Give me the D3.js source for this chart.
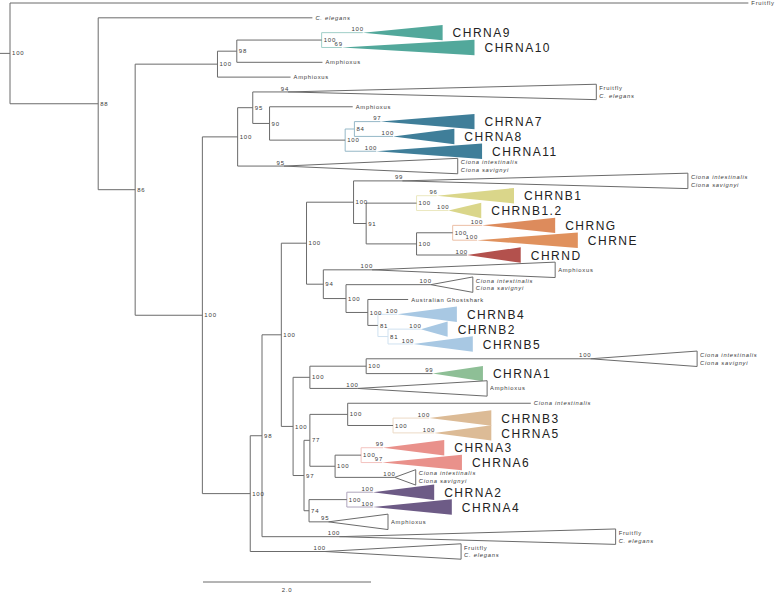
<!DOCTYPE html>
<html><head><meta charset="utf-8">
<script src="https://cdn.jsdelivr.net/npm/d3@7"></script>
<style>body{margin:0;background:#fff}svg{display:block}text{opacity:0.999}</style>
</head><body><svg id="c" width="778" height="594"></svg>
<script>
// tree topology: [node, parent, branch length (substitutions/site)]
const treeEdges = [
  ["root", null, 0],
  ["t_ff", "root", 8.79],
  ["n88", "root", 1.05],
  ["t_ce", "n88", 2.55],
  ["n86", "n88", 0.44],
  ["n100a", "n86", 0.98],
  ["n98a", "n100a", 0.23],
  ["nA9", "n98a", 1.01],
  ["c_A9", "nA9", 0.49],
  ["c_A10", "nA9", 0.24],
  ["t_am1", "n98a", 1.02],
  ["t_am2", "n100a", 0.87],
  ["n100b", "n86", 0.80],
  ["n100c", "n100b", 0.42],
  ["n95", "n100c", 0.18],
  ["c_ffce1", "n95", 0.42],
  ["n90", "n95", 0.20],
  ["t_am3", "n90", 0.99],
  ["nA7", "n90", 0.90],
  ["n84", "nA7", 0.11],
  ["c_A7", "n84", 0.31],
  ["c_A8", "n84", 0.46],
  ["c_A11", "nA7", 0.37],
  ["c_ci1", "n100c", 0.55],
  ["n100d", "n100b", 0.57],
  ["n98b", "n100d", 0.14],
  ["n100e", "n98b", 0.23],
  ["n100f", "n100e", 0.30],
  ["n100g", "n100f", 0.56],
  ["c_ci2", "n100g", 0.58],
  ["n91", "n100g", 0.15],
  ["nB1", "n91", 0.60],
  ["c_B1", "nB1", 0.24],
  ["c_B12", "nB1", 0.38],
  ["nGED", "n91", 0.60],
  ["nGE", "nGED", 0.43],
  ["c_G", "nGE", 0.35],
  ["c_E", "nGE", 0.29],
  ["c_D", "nGED", 0.60],
  ["n94", "n100f", 0.20],
  ["c_am4", "n94", 0.58],
  ["n100h", "n94", 0.27],
  ["c_ci3", "n100h", 1.01],
  ["n100i", "n100h", 0.26],
  ["t_gs", "n100i", 0.48],
  ["n81a", "n100i", 0.12],
  ["c_B4", "n81a", 0.23],
  ["n81b", "n81a", 0.12],
  ["c_B2", "n81b", 0.39],
  ["c_B5", "n81b", 0.30],
  ["n100j", "n100e", 0.14],
  ["n100k", "n100j", 0.20],
  ["n100l", "n100k", 0.67],
  ["c_ci4", "n100l", 2.67],
  ["c_A1", "n100l", 0.79],
  ["c_am5", "n100k", 0.57],
  ["n97", "n100j", 0.13],
  ["n77", "n97", 0.07],
  ["n100m", "n77", 0.45],
  ["t_ci", "n100m", 2.18],
  ["nB3", "n100m", 0.54],
  ["c_B3", "nB3", 0.43],
  ["c_A5", "nB3", 0.49],
  ["n100n", "n77", 0.30],
  ["nA3", "n100n", 0.31],
  ["c_A3", "nA3", 0.26],
  ["c_A6", "nA3", 0.25],
  ["c_ci5", "n100n", 0.71],
  ["n74", "n97", 0.06],
  ["nA2", "n74", 0.45],
  ["c_A2", "nA2", 0.31],
  ["c_A4", "nA2", 0.31],
  ["c_am6", "n74", 0.23],
  ["c_ffce2", "n98b", 0.92],
  ["c_ffce3", "n100d", 0.89]
];

// bootstrap support values
const supportValues = {
  root:"100", n88:"88", n86:"86", n100a:"100", n98a:"98", nA9:"100", c_A9:"100", c_A10:"69",
  n100b:"100", n100c:"100", n95:"95", c_ffce1:"94", n90:"90", nA7:"100", n84:"84", c_A7:"97",
  c_A8:"100", c_A11:"100", c_ci1:"95", n100d:"100", n98b:"98", n100e:"100", n100f:"100",
  n100g:"100", c_ci2:"99", n91:"91", nB1:"100", c_B1:"96", c_B12:"100", nGED:"100", nGE:"100",
  c_G:"100", c_E:"100", c_D:"100", n94:"94", c_am4:"100", n100h:"100", c_ci3:"100", n100i:"100",
  n81a:"81", c_B4:"100", n81b:"81", c_B2:"100", c_B5:"100", n100j:"100", n100k:"100", n100l:"100",
  c_ci4:"100", c_A1:"99", c_am5:"100", n97:"97", n77:"77", n100m:"100", nB3:"100", c_B3:"100",
  c_A5:"100", n100n:"100", nA3:"100", c_A3:"99", c_A6:"97", c_ci5:"100", n74:"74", nA2:"100",
  c_A2:"100", c_A4:"100", c_am6:"95", c_ffce2:"100", c_ffce3:"100"
};

// depth of collapsed clades (triangles), beyond their node
const collapsedDepths = {
  c_A9:0.95, c_A10:1.58, c_ffce1:3.67, c_A7:1.12, c_A8:0.73, c_A11:1.26, c_ci1:2.07,
  c_ci2:3.40, c_B1:0.92, c_B12:0.39, c_G:0.87, c_E:1.20, c_D:0.64, c_am4:2.18, c_ci3:0.50,
  c_B4:0.71, c_B2:0.32, c_B5:0.71, c_ci4:1.27, c_A1:0.60, c_am5:1.54, c_B3:0.74, c_A5:0.68,
  c_A3:0.73, c_A6:0.95, c_ci5:0.25, c_A2:0.73, c_A4:0.94, c_am6:0.71, c_ffce2:3.29, c_ffce3:1.62
};

// tip labels: [text lines, style]
const tipLabels = {
  t_ff:[["Fruitfly"],"plain"], t_ce:[["C. elegans"],"italic"],
  c_A9:[["CHRNA9"],"clade"], c_A10:[["CHRNA10"],"clade"],
  t_am1:[["Amphioxus"],"plain"], t_am2:[["Amphioxus"],"plain"],
  c_ffce1:[["Fruitfly","C. elegans"],"pair"], t_am3:[["Amphioxus"],"plain"],
  c_A7:[["CHRNA7"],"clade"], c_A8:[["CHRNA8"],"clade"], c_A11:[["CHRNA11"],"clade"],
  c_ci1:[["Ciona intestinalis","Ciona savignyi"],"italic"],
  c_ci2:[["Ciona intestinalis","Ciona savignyi"],"italic"],
  c_B1:[["CHRNB1"],"clade"], c_B12:[["CHRNB1.2"],"clade"], c_G:[["CHRNG"],"clade"],
  c_E:[["CHRNE"],"clade"], c_D:[["CHRND"],"clade"], c_am4:[["Amphioxus"],"plain"],
  c_ci3:[["Ciona intestinalis","Ciona savignyi"],"italic"],
  t_gs:[["Australian Ghostshark"],"plain"],
  c_B4:[["CHRNB4"],"clade"], c_B2:[["CHRNB2"],"clade"], c_B5:[["CHRNB5"],"clade"],
  c_ci4:[["Ciona intestinalis","Ciona savignyi"],"italic"],
  c_A1:[["CHRNA1"],"clade"], c_am5:[["Amphioxus"],"plain"],
  t_ci:[["Ciona intestinalis"],"italic"],
  c_B3:[["CHRNB3"],"clade"], c_A5:[["CHRNA5"],"clade"],
  c_A3:[["CHRNA3"],"clade"], c_A6:[["CHRNA6"],"clade"],
  c_ci5:[["Ciona intestinalis","Ciona savignyi"],"italic"],
  c_A2:[["CHRNA2"],"clade"], c_A4:[["CHRNA4"],"clade"], c_am6:[["Amphioxus"],"plain"],
  c_ffce2:[["Fruitfly","C. elegans"],"pair"], c_ffce3:[["Fruitfly","C. elegans"],"pair"]
};

// highlighted subfamilies
const cladeGroups = {
  nA9:"teal", c_A9:"teal", c_A10:"teal",
  nA7:"steel", n84:"steel", c_A7:"steel", c_A8:"steel", c_A11:"steel",
  nB1:"khaki", c_B1:"khaki", c_B12:"khaki",
  nGE:"orange", c_G:"orange", c_E:"orange2",
  c_D:"red",
  n81a:"lblue", n81b:"lblue", c_B4:"lblue", c_B2:"lblue", c_B5:"lblue",
  c_A1:"green",
  nB3:"tan", c_B3:"tan", c_A5:"tan",
  nA3:"salmon", c_A3:"salmon", c_A6:"salmon",
  nA2:"purple", c_A2:"purple", c_A4:"purple"
};
const groupColors = {
  teal:"#52a89b", steel:"#3f7e99", khaki:"#dad68a", orange:"#dd8b5c", orange2:"#e0915d",
  red:"#b3514d", lblue:"#a8c8e3", green:"#8ebf96", tan:"#dcbb96", salmon:"#e9918b", purple:"#6d5b86"
};
const scaleBarValue = 2.0;

// ---------- layout ----------
const svg = d3.select("#c");
const LINE = "#6b6b6b";
const FONT = "'Liberation Sans', Arial, Helvetica, sans-serif";

const root = d3.stratify()
  .id(d => d[0]).parentId(d => d[1])(treeEdges);
root.eachBefore(n => { n.dist = n.parent ? n.parent.dist + n.data[2] : 0; });

const x = d3.scaleLinear().domain([0, 2]).range([10, 178]);
const leaves = root.leaves();
const y = d3.scaleLinear().domain([0, leaves.length - 1]).range([3, 551.5]);
const slot = y(1) - y(0);
leaves.forEach((l, i) => { l.yy = y(i); });
root.eachAfter(n => {
  if (n.children) n.yy = (n.children[0].yy + n.children[n.children.length - 1].yy) / 2;
});
const tint = g => d3.interpolateRgb(groupColors[g], "#ffffff")(0.45);
const grp = n => cladeGroups[n.id];

const gLines = svg.append("g").attr("fill", "none").attr("stroke-width", 1);
// root stub
gLines.append("line").attr("x1", 0).attr("x2", x(0)).attr("y1", root.yy).attr("y2", root.yy).attr("stroke", LINE);
// verticals
root.descendants().filter(n => n.children).forEach(n => {
  gLines.append("line")
    .attr("x1", x(n.dist)).attr("x2", x(n.dist))
    .attr("y1", n.children[0].yy).attr("y2", n.children[n.children.length - 1].yy)
    .attr("stroke", grp(n) ? tint(grp(n)) : LINE);
});
// horizontals
root.descendants().filter(n => n.parent).forEach(n => {
  const pg = grp(n.parent);
  gLines.append("line")
    .attr("x1", x(n.parent.dist)).attr("x2", x(n.dist))
    .attr("y1", n.yy).attr("y2", n.yy)
    .attr("stroke", pg && grp(n) ? tint(pg) : LINE);
});
// collapsed triangles
const tris = leaves.filter(l => collapsedDepths[l.id]);
svg.append("g").selectAll("path").data(tris).join("path")
  .attr("d", l => {
    const x0 = x(l.dist), x1 = x(l.dist + collapsedDepths[l.id]), h = slot * 0.52;
    return `M${x0},${l.yy}L${x1},${l.yy - h}L${x1},${l.yy + h}Z`;
  })
  .attr("fill", l => grp(l) ? groupColors[grp(l)] : "#fff")
  .attr("stroke", l => grp(l) ? "none" : LINE)
  .attr("stroke-width", 1);

// support labels
const gSup = svg.append("g").attr("font-family", FONT).attr("font-size", 6)
  .attr("letter-spacing", 0.8).attr("fill", "#3a3a3a");
root.descendants().filter(n => supportValues[n.id]).forEach(n => {
  const isTri = !!collapsedDepths[n.id];
  gSup.append("text")
    .attr("x", isTri ? x(n.dist) + 1 : x(n.dist) + 2)
    .attr("y", isTri ? n.yy - 3.5 : n.yy)
    .attr("dy", "0.35em")
    .attr("text-anchor", isTri ? "end" : "start")
    .text(supportValues[n.id]);
});

// tip labels
const gTip = svg.append("g").attr("font-family", FONT);
leaves.forEach(l => {
  const [lines, style] = tipLabels[l.id];
  const xr = x(l.dist + (collapsedDepths[l.id] || 0));
  if (style === "clade") {
    gTip.append("text").attr("x", xr + 10).attr("y", l.yy + 0.5).attr("dy", "0.35em")
      .attr("font-size", 12).attr("letter-spacing", 1.5).attr("fill", "#222").text(lines[0]);
  } else {
    lines.forEach((t, i) => {
      const italic = style === "italic" || (style === "pair" && i === 1);
      const yy = lines.length === 1 ? l.yy : l.yy + (i === 0 ? -4 : 3.8);
      gTip.append("text").attr("x", xr + 3).attr("y", yy).attr("dy", "0.35em")
        .attr("font-size", 5.8).attr("letter-spacing", 0.75).attr("fill", "#3a3a3a")
        .attr("font-style", italic ? "italic" : "normal").text(t);
    });
  }
});

// scale bar
const sbX = 203, sbY = 582;
svg.append("line").attr("x1", sbX).attr("x2", sbX + x(scaleBarValue) - x(0))
  .attr("y1", sbY).attr("y2", sbY).attr("stroke", LINE);
svg.append("text").attr("x", sbX + (x(scaleBarValue) - x(0)) / 2).attr("y", sbY + 9.5)
  .attr("text-anchor", "middle").attr("font-family", FONT).attr("font-size", 6)
  .attr("letter-spacing", 0.8).attr("fill", "#3a3a3a").text(scaleBarValue.toFixed(1));
</script></body></html>
